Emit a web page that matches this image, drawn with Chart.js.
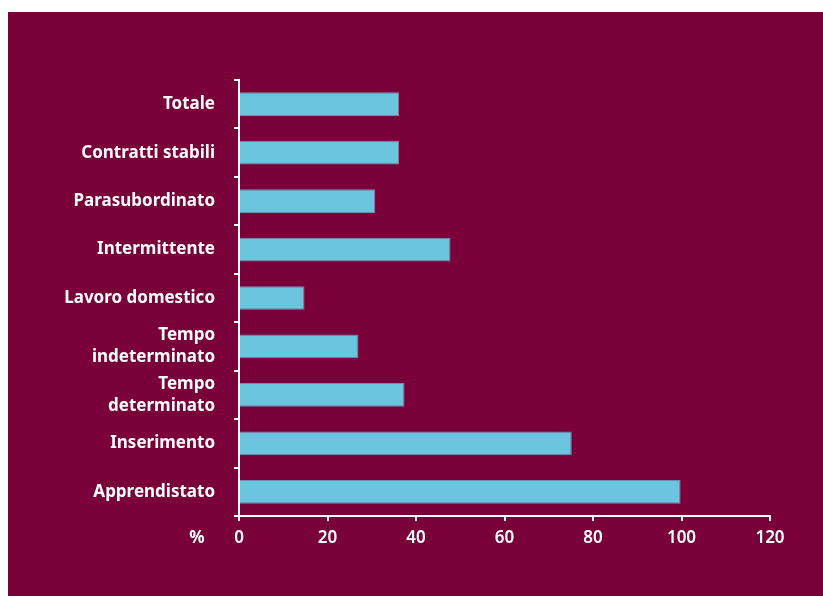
<!DOCTYPE html>
<html>
<head>
<meta charset="utf-8">
<script src="https://cdn.jsdelivr.net/npm/chart.js@4.4.0/dist/chart.umd.min.js"></script>
<style>
    html, body { margin: 0; padding: 0; background: #fff; }
    #wrap { position: absolute; left: 8px; top: 12px; width: 815px; height: 584px; background: #7a003a; }
</style>
</head>
<body>
<div id="wrap"><canvas id="contractChart" width="815" height="584"></canvas></div>
<script>
const categories = [
    "Totale",
    "Contratti stabili",
    "Parasubordinato",
    "Intermittente",
    "Lavoro domestico",
    ["Tempo", "indeterminato"],
    ["Tempo", "determinato"],
    "Inserimento",
    "Apprendistato",
];
const values = [36.2, 36.2, 30.8, 47.8, 14.8, 27.0, 37.4, 75.2, 99.8];
const xTicks = [0, 20, 40, 60, 80, 100, 120];

const FONT = "'Noto Sans', sans-serif";

// Small "%" unit marker to the left of the x tick labels
const unitLabel = {
    id: "unitLabel",
    afterDraw(chart) {
        const { ctx, chartArea } = chart;
        ctx.save();
        ctx.fillStyle = "#fff";
        ctx.font = "bold 17px " + FONT;
        ctx.textAlign = "center";
        ctx.textBaseline = "middle";
        ctx.fillText("%", chartArea.left - 42, chartArea.bottom + 22);
        ctx.restore();
    },
};

document.addEventListener("DOMContentLoaded", () => {
    const ctx = document.getElementById("contractChart").getContext("2d");

    new Chart(ctx, {
        type: "bar",
        data: {
            labels: categories,
            datasets: [
                {
                    data: values,
                    backgroundColor: "#6cc5de",
                    borderColor: "#6a8fb2",
                    borderWidth: 1,
                    barPercentage: 0.49,
                    categoryPercentage: 1,
                },
            ],
        },
        plugins: [unitLabel],
        options: {
            indexAxis: "y",
            responsive: false,
            animation: false,
            layout: {
                padding: { top: 68, right: 53, left: 0, bottom: 0 },
            },
            scales: {
                x: {
                    min: 0,
                    max: 120,
                    afterBuildTicks: (scale) => {
                        scale.ticks = xTicks.map((v) => ({ value: v }));
                    },
                    afterFit: (scale) => {
                        scale.height = 80;
                    },
                    border: { color: "#fff", width: 2 },
                    grid: {
                        drawOnChartArea: false,
                        color: "#fff",
                        lineWidth: 2,
                        tickLength: 5,
                    },
                    ticks: {
                        color: "#fff",
                        padding: 7,
                        font: { family: FONT, size: 17, weight: "600" },
                    },
                },
                y: {
                    offset: true,
                    afterFit: (scale) => {
                        scale.width = 231;
                    },
                    border: { color: "#fff", width: 2 },
                    grid: {
                        offset: true,
                        drawOnChartArea: false,
                        color: "#fff",
                        lineWidth: 2,
                        tickLength: 5,
                    },
                    ticks: {
                        color: "#fff",
                        padding: 19,
                        font: { family: FONT, size: 17, weight: "bold", lineHeight: 1.3 },
                    },
                },
            },
            plugins: {
                legend: { display: false },
                tooltip: { enabled: false },
            },
        },
    });
});
</script>
</body>
</html>
